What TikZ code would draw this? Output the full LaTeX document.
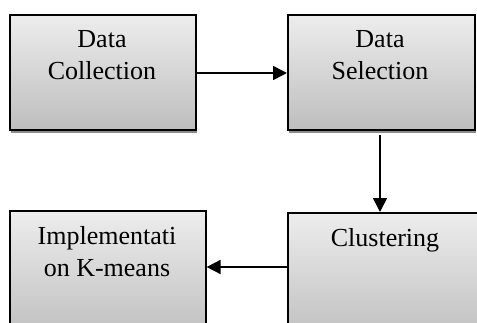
\documentclass[tikz,border=0pt]{standalone}
\usepackage{fontspec}
\setmainfont{Liberation Serif}
\usetikzlibrary{arrows.meta,shadows}
\definecolor{topg}{HTML}{EDEDED}
\definecolor{botg}{HTML}{BEBEBE}
\tikzset{
  box/.style={draw=black, line width=1.6pt, rectangle, top color=topg, bottom color=botg,
    drop shadow={shadow xshift=1.5pt, shadow yshift=-3pt, fill=black!45, opacity=1},
    inner sep=0pt, anchor=north west},
  txt/.style={anchor=north, align=center, inner sep=0pt,
    font=\fontsize{26}{32}\selectfont},
  arr/.style={line width=1.6pt, -{Triangle[length=14pt,width=14pt]}}
}
\begin{document}
\begin{tikzpicture}[x=1pt,y=-1pt]
\useasboundingbox (0,0) rectangle (477,322);
\clip (0,0) rectangle (477,322);
\node[box, minimum width=186pt, minimum height=115pt] (b1) at (9,14) {};
\node[box, minimum width=187pt, minimum height=115pt] (b2) at (287,14) {};
\node[box, minimum width=196pt, minimum height=130pt] (b3) at (9,210) {};
\node[box, minimum width=196pt, minimum height=130pt] (b4) at (287,212) {};
\node[txt] (t1) at (102,30) {Data\\Collection};
\node[txt] (t2) at (380,30) {Data\\Selection};
\node[txt] (t3) at (107,226) {Implementati\\on K-means};
\node[txt] (t4) at (385,228) {Clustering};
\coordinate (ya) at (0,73);
\coordinate (yb) at (0,267);
\coordinate (xa) at (380,135);
\draw[arr] (b1.east |- ya) -- (b2.west |- ya);
\draw[arr] (xa) -- (xa |- b4.north);
\draw[arr] (b4.west |- yb) -- (b3.east |- yb);
\end{tikzpicture}
\end{document}
